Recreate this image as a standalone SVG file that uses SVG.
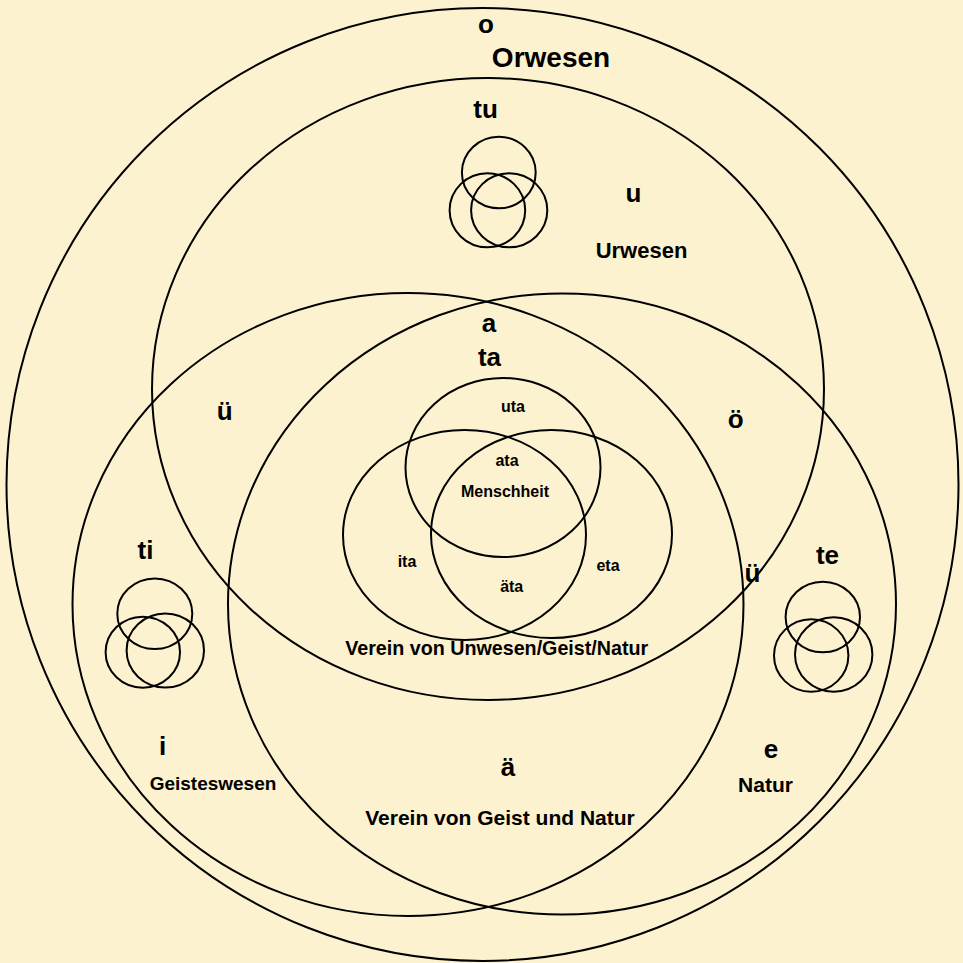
<svg xmlns="http://www.w3.org/2000/svg" width="963" height="963" viewBox="0 0 963 963">
<style>
.c{fill:none;stroke:#000;stroke-width:2}
.t{font-family:"Liberation Sans",Arial,Helvetica,sans-serif;font-weight:bold;fill:#000;text-anchor:middle}
.l{font-size:26px}
.m{font-size:21px}
.s{font-size:16px}
</style>
<rect width="963" height="963" fill="#FCF2CF"/>
<g id="orwesen">
<ellipse class="c" cx="482.5" cy="484.5" rx="476" ry="476.5"/>
<text class="t l" x="486" y="33">o</text>
<text class="t" x="551" y="67" font-size="28">Orwesen</text>
</g>
<g id="urwesen">
<ellipse class="c" cx="488" cy="389" rx="336" ry="311"/>
<text class="t l" x="633.5" y="202">u</text>
<text class="t" x="641.5" y="258" font-size="22">Urwesen</text>
</g>
<g id="geisteswesen">
<ellipse class="c" cx="408" cy="604.5" rx="335.5" ry="311.5"/>
<text class="t l" x="162.5" y="755">i</text>
<text class="t" x="213" y="790" font-size="19">Geisteswesen</text>
</g>
<g id="natur">
<ellipse class="c" cx="562" cy="604" rx="334" ry="310.5"/>
<text class="t l" x="771" y="758">e</text>
<text class="t m" x="765.5" y="792">Natur</text>
</g>
<g id="tu">
<ellipse class="c" cx="498.8" cy="172.5" rx="36.9" ry="35.8"/>
<ellipse class="c" cx="487.4" cy="210.3" rx="37.8" ry="37"/>
<ellipse class="c" cx="509.2" cy="210.3" rx="38.1" ry="37"/>
<text class="t l" x="485.5" y="118">tu</text>
</g>
<g id="ti">
<ellipse class="c" cx="154.8" cy="613.7" rx="37.5" ry="35.3"/>
<ellipse class="c" cx="142.8" cy="652.2" rx="37.2" ry="35.5"/>
<ellipse class="c" cx="165.3" cy="650.5" rx="38.7" ry="37"/>
<text class="t l" x="145.5" y="559">ti</text>
</g>
<g id="te">
<ellipse class="c" cx="822.8" cy="617" rx="37.2" ry="35.3"/>
<ellipse class="c" cx="811.2" cy="655.5" rx="37.2" ry="36.2"/>
<ellipse class="c" cx="833.7" cy="654.5" rx="38.7" ry="37.2"/>
<text class="t l" x="827.5" y="564">te</text>
</g>
<g id="menschheit">
<ellipse class="c" cx="503" cy="467.5" rx="97.5" ry="89.5"/>
<ellipse class="c" cx="464.5" cy="535" rx="121.5" ry="105"/>
<ellipse class="c" cx="551.5" cy="534" rx="120.5" ry="104"/>
<text class="t s" x="513" y="412">uta</text>
<text class="t s" x="507" y="466">ata</text>
<text class="t s" x="505" y="497">Menschheit</text>
<text class="t s" x="407" y="567">ita</text>
<text class="t s" x="608" y="571">eta</text>
<text class="t s" x="511.7" y="592">äta</text>
</g>
<g id="labels">
<text class="t l" x="489" y="332">a</text>
<text class="t l" x="489.5" y="366">ta</text>
<text class="t l" x="224.7" y="420">ü</text>
<text class="t l" x="735.6" y="428">ö</text>
<text class="t l" x="752.5" y="582">ü</text>
<text class="t" x="496.7" y="655" font-size="19.7">Verein von Unwesen/Geist/Natur</text>
<text class="t l" x="508" y="776">ä</text>
<text class="t m" x="500" y="825">Verein von Geist und Natur</text>
</g>
<g id="connectors"/>
</svg>
